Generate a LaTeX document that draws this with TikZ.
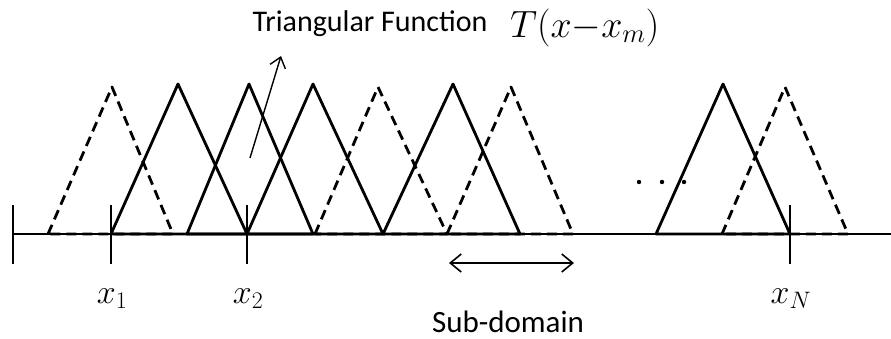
\RequirePackage{fix-cm}
\documentclass[tikz,border=0pt]{standalone}
\usepackage{fontspec}
\setsansfont{Carlito}
\usetikzlibrary{arrows.meta}
\tikzset{
  tri/.style={line width=2.8pt, line join=round},
  dtri/.style={line width=2.8pt, line join=round, dash pattern=on 10pt off 6pt},
  tk/.style={line width=1.4pt},
  txt/.style={font=\sffamily\fontsize{30}{34}\selectfont, inner sep=0pt, anchor=base},
  lbl/.style={font=\fontsize{34}{38}\selectfont, inner sep=0pt, anchor=base},
  arr/.style={-{Straight Barb[length=10pt,width=16pt]}, line width=1.4pt},
  dbl/.style={{Straight Barb[length=11pt,width=18pt]}-{Straight Barb[length=11pt,width=18pt]}, line width=1.6pt}
}
\begin{document}
\begin{tikzpicture}[x=1pt,y=-1pt]
  \useasboundingbox (0,0) rectangle (891,338);
  % axis and ticks
  \draw[tk] (12,234) -- (891,234);
  \foreach \x in {13,111,247,790}
    \draw[tk] (\x,205) -- (\x,264);
  % dashed triangles
  \foreach \l/\p/\r in {48/112/173, 315/378/447, 447/511/573, 722/785/848}
    \draw[dtri] (\l,234) -- (\p,87) -- (\r,234) -- cycle;
  % solid triangles
  \foreach \l/\p/\r in {111/178/247, 187/249/313, 247/313/383, 383/453/520, 656/723/790}
    \draw[tri] (\l,234) -- (\p,84) -- (\r,234) -- cycle;
  % dots
  \foreach \x in {639,662,684}
    \fill (\x,182) circle (2.2);
  % labels
  \node[txt] (ttl) at (370,31) {Triangular Function};
  \node[lbl, anchor=base west, font=\fontsize{38}{42}\selectfont] (func) at (510,37) {$T(x{-}x_m)$};
  \coordinate (ta) at (250,158);
  \coordinate (tb) at (281,56);
  \draw[arr] (ta) -- (tb);
  \node[lbl] (x1) at (112,303) {$x_1$};
  \node[lbl] (x2) at (248,303) {$x_2$};
  \node[lbl] (xN) at (791,303) {$x_N$};
  \coordinate (sa) at (449,263);
  \coordinate (sb) at (574,263);
  \draw[dbl] (sa) -- (sb);
  \node[txt, font=\sffamily\fontsize{31}{35}\selectfont] (sub) at (508,332) {Sub-domain};
\end{tikzpicture}
\end{document}
